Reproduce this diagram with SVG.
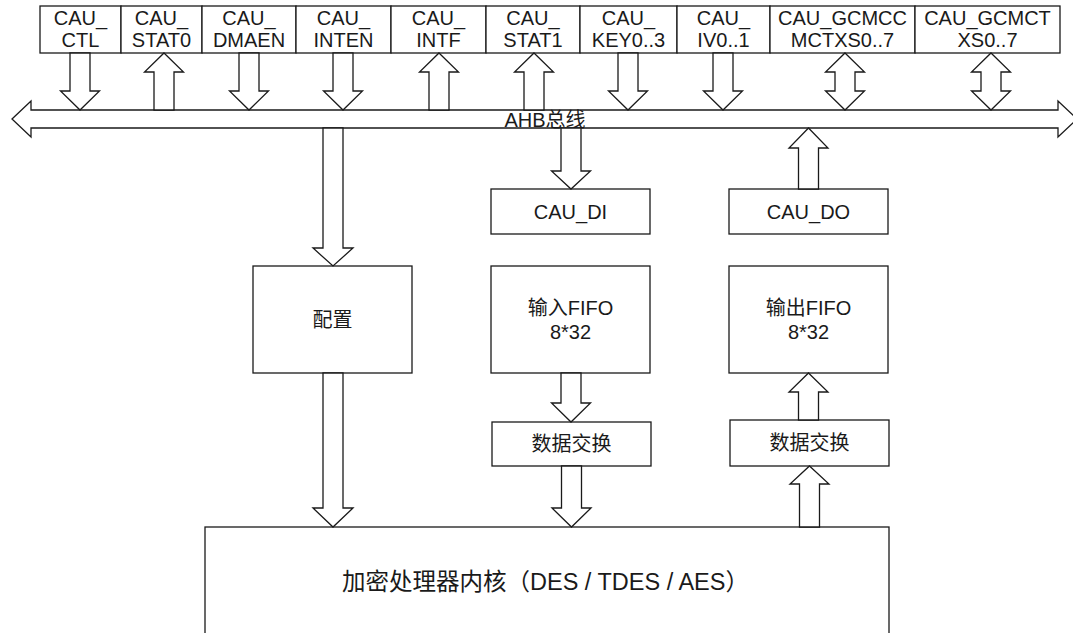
<svg xmlns="http://www.w3.org/2000/svg" width="1073" height="633" viewBox="0 0 1073 633">
<style>
  .box { fill: #ffffff; stroke: #1a1a1a; stroke-width: 1.3; }
  .arr { fill: #ffffff; stroke: #1a1a1a; stroke-width: 1.3; stroke-linejoin: miter; }
  text { font-family: "Liberation Sans", Arial, "Noto Sans CJK SC", sans-serif; font-size: 20px; fill: #1a1a1a; text-anchor: middle; }
  .core { font-size: 23.5px; text-anchor: start; }
</style>
<rect width="1073" height="633" fill="#ffffff"/>

<g id="bus">
  <polygon class="arr" points="12,119 31,101 31,110 1058,110 1058,101 1077,119 1058,137 1058,128 31,128 31,137"/>
  <text x="545" y="126.5">AHB总线</text>
</g>

<g id="reg-ctl"><rect class="box" x="40" y="6" width="81" height="47"/><text x="80.5" y="24.5">CAU_</text><text x="80.5" y="47">CTL</text></g>
<g id="reg-stat0"><rect class="box" x="121" y="6" width="81" height="47"/><text x="161.5" y="24.5">CAU_</text><text x="161.5" y="47">STAT0</text></g>
<g id="reg-dmaen"><rect class="box" x="202" y="6" width="94" height="47"/><text x="249" y="24.5">CAU_</text><text x="249" y="47">DMAEN</text></g>
<g id="reg-inten"><rect class="box" x="296" y="6" width="95" height="47"/><text x="343.5" y="24.5">CAU_</text><text x="343.5" y="47">INTEN</text></g>
<g id="reg-intf"><rect class="box" x="391" y="6" width="95" height="47"/><text x="438.5" y="24.5">CAU_</text><text x="438.5" y="47">INTF</text></g>
<g id="reg-stat1"><rect class="box" x="486" y="6" width="94" height="47"/><text x="533" y="24.5">CAU_</text><text x="533" y="47">STAT1</text></g>
<g id="reg-key"><rect class="box" x="580" y="6" width="97" height="47"/><text x="628.5" y="24.5">CAU_</text><text x="628.5" y="47">KEY0..3</text></g>
<g id="reg-iv"><rect class="box" x="677" y="6" width="93" height="47"/><text x="723.5" y="24.5">CAU_</text><text x="723.5" y="47">IV0..1</text></g>
<g id="reg-gcmcc"><rect class="box" x="770" y="6" width="145" height="47"/><text x="842.5" y="24.5">CAU_GCMCC</text><text x="842.5" y="47">MCTXS0..7</text></g>
<g id="reg-gcmct"><rect class="box" x="915" y="6" width="145" height="47"/><text x="987.5" y="24.5">CAU_GCMCT</text><text x="987.5" y="47">XS0..7</text></g>

<g id="config"><rect class="box" x="253" y="266" width="159" height="107"/><text x="332.5" y="327">配置</text></g>
<g id="cau-di"><rect class="box" x="491" y="189" width="159" height="45"/><text x="570.5" y="219">CAU_DI</text></g>
<g id="fifo-in"><rect class="box" x="491" y="266" width="159" height="107"/><text x="570.5" y="315">输入FIFO</text><text x="570.5" y="339">8*32</text></g>
<g id="swap-in"><rect class="box" x="492" y="422" width="159" height="44"/><text x="571.5" y="451">数据交换</text></g>
<g id="cau-do"><rect class="box" x="729" y="189" width="159" height="45"/><text x="808.5" y="219">CAU_DO</text></g>
<g id="fifo-out"><rect class="box" x="729" y="266" width="159" height="107"/><text x="808.5" y="315">输出FIFO</text><text x="808.5" y="339">8*32</text></g>
<g id="swap-out"><rect class="box" x="730" y="420" width="159" height="46"/><text x="809.5" y="450">数据交换</text></g>
<g id="core"><rect class="box" x="205" y="527" width="684" height="120"/><text class="core" x="342" y="590">加密处理器内核（DES / TDES / AES）</text></g>

<g id="connectors">
  <polygon class="arr" points="70,53 90,53 90,91 99.5,91 80,110 60.5,91 70,91"/>
  <polygon class="arr" points="164,53 183.5,72 174,72 174,110 154,110 154,72 144.5,72"/>
  <polygon class="arr" points="239,53 259,53 259,91 268.5,91 249,110 229.5,91 239,91"/>
  <polygon class="arr" points="333,53 353,53 353,91 362.5,91 343,110 323.5,91 333,91"/>
  <polygon class="arr" points="439,53 458.5,72 449,72 449,110 429,110 429,72 419.5,72"/>
  <polygon class="arr" points="534,53 553.5,72 544,72 544,110 524,110 524,72 514.5,72"/>
  <polygon class="arr" points="618,53 638,53 638,91 647.5,91 628,110 608.5,91 618,91"/>
  <polygon class="arr" points="713,53 733,53 733,91 742.5,91 723,110 703.5,91 713,91"/>
  <polygon class="arr" points="845,53 864.5,72 855,72 855,91 864.5,91 845,110 825.5,91 835,91 835,72 825.5,72"/>
  <polygon class="arr" points="991,53 1010.5,72 1001,72 1001,91 1010.5,91 991,110 971.5,91 981,91 981,72 971.5,72"/>

  <polygon class="arr" points="323,128 343,128 343,248 353,248 333,266 313,248 323,248"/>
  <polygon class="arr" points="323,373 343,373 343,508 353,508 333,527 313,508 323,508"/>
  <polygon class="arr" points="561,128 581,128 581,171 590.5,171 571,189 551.5,171 561,171"/>
  <polygon class="arr" points="561,373 581,373 581,403 590.5,403 571,422 551.5,403 561,403"/>
  <polygon class="arr" points="561.5,466 581.5,466 581.5,508 591,508 571.5,527 552,508 561.5,508"/>
  <polygon class="arr" points="808.5,128 828,148 818.5,148 818.5,189 798.5,189 798.5,148 789,148"/>
  <polygon class="arr" points="808.5,373 828,392 818.5,392 818.5,420 798.5,420 798.5,392 789,392"/>
  <polygon class="arr" points="809.5,466 829,484 819.5,484 819.5,527 799.5,527 799.5,484 790,484"/>
</g>
</svg>
